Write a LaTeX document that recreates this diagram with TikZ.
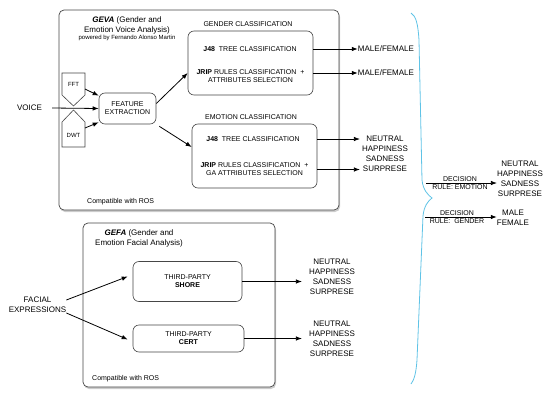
\documentclass[tikz,border=0pt]{standalone}
\usepackage{fontspec}
\setmainfont{Liberation Sans}
\usetikzlibrary{arrows.meta,shadows}
\definecolor{bracecol}{RGB}{95,195,230}
\definecolor{linecol}{RGB}{70,70,70}

\tikzset{
  panel/.style={draw=linecol, rounded corners=5pt, fill=white, line width=0.7pt,
    drop shadow={shadow xshift=1pt, shadow yshift=-2pt, opacity=0.4}},
  classbox/.style={draw=linecol, rounded corners=6pt, line width=0.6pt},
  big/.style={font=\fontsize{8}{10}\selectfont, inner sep=0pt, align=center},
  small/.style={font=\fontsize{7}{8}\selectfont, inner sep=0pt, align=center},
  tiny/.style={font=\fontsize{6}{7}\selectfont, inner sep=0pt, align=center},
  arr/.style={-{Latex[length=6pt,width=4.5pt]}, line width=0.8pt},
}

\begin{document}
\begin{tikzpicture}[x=1pt,y=-1pt]
  \useasboundingbox (0,0) rectangle (550,402);
  % voice analysis
  \node[panel, minimum width=280pt, minimum height=200pt] (geva) at (199,110) {};
  \node[big] (gevatitle) at (127,25) {\textbf{\textit{GEVA}} (Gender and\\Emotion Voice Analysis)};
  \node[tiny] (powered) at (127,38) {powered by Fernando Alonso Martin};
  \node[small, anchor=west] (gevaros) at (87,202) {Compatible with ROS};

  \draw[linecol, line width=0.6pt] (62,73) -- (85,73) -- (85,95) -- (73.5,106) -- (62,95) -- cycle;
  \draw[linecol, line width=0.6pt] (73.5,110) -- (85,122) -- (85,147) -- (62,147) -- (62,122) -- cycle;
  \node[tiny] (fft) at (73.5,84) {FFT};
  \node[tiny] (dwt) at (73.5,135) {DWT};
  \coordinate (fftout) at (85,89);
  \coordinate (dwtout) at (85,128);

  \node[classbox, small, minimum width=57pt, minimum height=31pt] (fe) at (127.5,108.5) {FEATURE\\EXTRACTION};
  \node[big] (voice) at (29.5,108) {VOICE};

  \node[classbox, minimum width=125pt, minimum height=64pt] (gbox) at (250.5,63) {};
  \node[small] (glabel) at (248,24) {GENDER CLASSIFICATION};
  \node[small] (gj48) at (250,49) {\textbf{J48}~~TREE CLASSIFICATION};
  \node[small] (gjrip) at (250.5,76) {\textbf{JRIP} RULES CLASSIFICATION~~+\\ATTRIBUTES SELECTION};
  \node[big] (gout1) at (386,49) {MALE/FEMALE};
  \node[big] (gout2) at (386,73) {MALE/FEMALE};

  \node[classbox, minimum width=125pt, minimum height=64pt] (ebox) at (254.5,156) {};
  \node[small] (elabel) at (251,117) {EMOTION CLASSIFICATION};
  \node[small] (ej48) at (253,139) {\textbf{J48}~~TREE CLASSIFICATION};
  \node[small] (ejrip) at (254.5,169.5) {\textbf{JRIP} RULES CLASSIFICATION~~+\\GA ATTRIBUTES SELECTION};
  \node[big] (eout) at (385,153.5) {NEUTRAL\\HAPPINESS\\SADNESS\\SURPRESE};

  \draw[arr] ([xshift=10pt]voice.east) -- (fe.west);
  \draw[arr] (fftout) -- ([yshift=-3pt]fe.north west);
  \draw[arr] (dwtout) -- ([yshift=2pt]fe.south west);
  \draw[arr] ([yshift=5pt]fe.east) -- ([yshift=-10pt]gbox.west);
  \draw[arr] ([xshift=3pt,yshift=-2pt]fe.south east) -- ([yshift=9pt]ebox.west);
  \draw[arr] (gbox.east |- gout1) -- (gout1.west);
  \draw[arr] (gbox.east |- gout2) -- (gout2.west);
  \draw[arr, shorten >=2pt] (ebox.east |- ej48) -- (ej48 -| eout.west);
  \draw[arr, shorten >=2pt] (ebox.east |- ejrip) -- (ejrip -| eout.west);

  % facial analysis
  \node[panel, minimum width=192pt, minimum height=164pt] (gefa) at (179,305) {};
  \node[big] (gefatitle) at (139,238) {\textbf{\textit{GEFA}} (Gender and\\Emotion Facial Analysis)};
  \node[small, anchor=west] (gefaros) at (92,379) {Compatible with ROS};
  \node[classbox, small, minimum width=109pt, minimum height=40pt] (shore) at (187.5,281.5) {THIRD-PARTY\\\textbf{SHORE}};
  \node[classbox, small, minimum width=111pt, minimum height=27pt] (cert) at (188.5,338.5) {THIRD-PARTY\\\textbf{CERT}};
  \node[big] (facial) at (37.5,305) {FACIAL\\EXPRESSIONS};
  \node[big] (fout1) at (332,276.5) {NEUTRAL\\HAPPINESS\\SADNESS\\SURPRESE};
  \node[big] (fout2) at (332,339) {NEUTRAL\\HAPPINESS\\SADNESS\\SURPRESE};

  \draw[arr] ([yshift=5pt]facial.east) -- ([xshift=-5pt,yshift=5pt]shore.west);
  \draw[arr] ([yshift=-8pt]facial.east) -- ([xshift=-5pt,yshift=-1pt]cert.west);
  \draw[arr, shorten >=7pt] (shore.east) -- (shore.east -| fout1.west);
  \draw[arr, shorten >=7pt] (cert.east) -- (cert.east -| fout2.west);

  % fusion
  \draw[bracecol, line width=0.8pt] (411,13) .. controls (416,16) and (418,24) .. (419,40)
    -- (422,180) .. controls (423,190) and (428,195) .. (432,198)
    .. controls (428,201) and (424,206) .. (423,216) -- (417,360)
    .. controls (416,374) and (414,380) .. (411,384);
  \coordinate (d1) at (426,183);
  \coordinate (d2) at (425,217);
  \node[big] (dout1) at (520,179) {NEUTRAL\\HAPPINESS\\SADNESS\\SURPRESE};
  \node[big] (dout2) at (513,218) {MALE\\FEMALE};
  \draw[arr] (d1) -- (d1 -| dout1.west);
  \draw[arr] (d2) -- (d2 -| dout2.west);
  \node[small] (drule1) at (460,183) {DECISION\\RULE: EMOTION};
  \node[small] (drule2) at (457,217) {DECISION\\RULE:~~GENDER};
\end{tikzpicture}
\end{document}
